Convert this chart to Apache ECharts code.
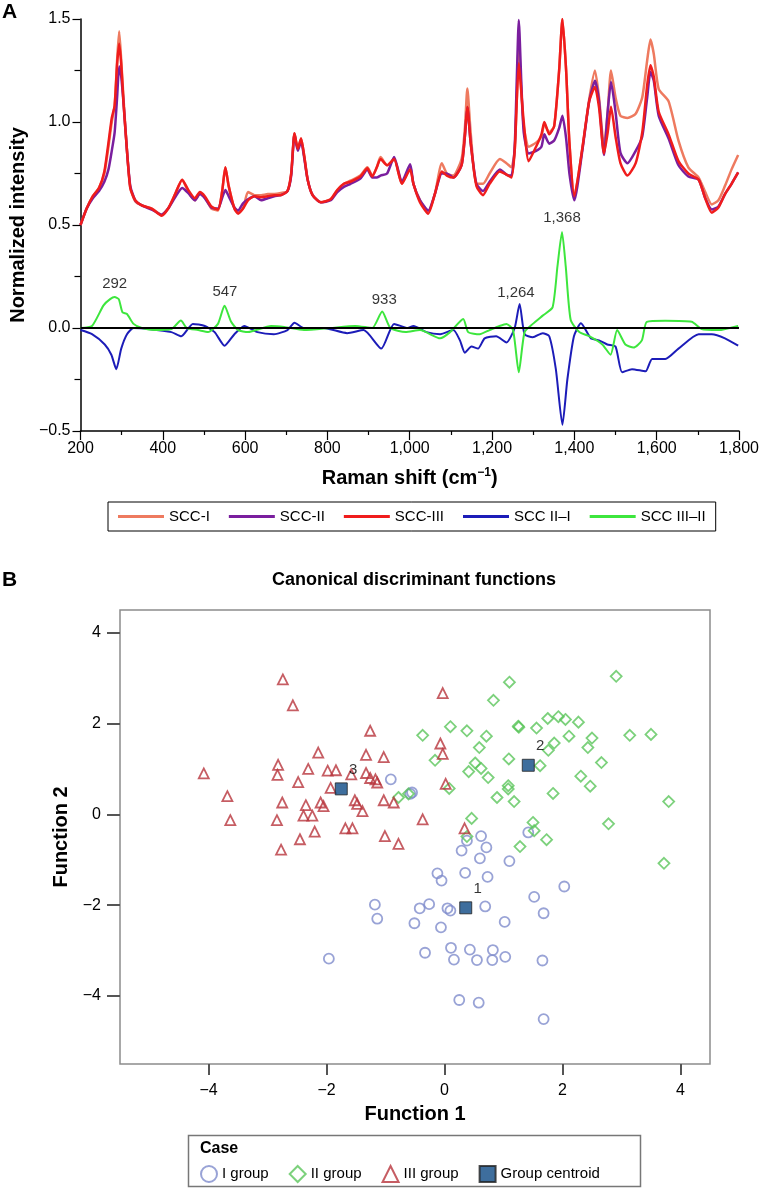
<!DOCTYPE html>
<html><head><meta charset="utf-8">
<script src="https://cdn.jsdelivr.net/npm/echarts@6/dist/echarts.min.js"></script>
<style>html,body{margin:0;padding:0;background:#fff}#chart{width:762px;height:1188px}</style>
</head><body><div id="chart"></div>
<script>
// ---------- Panel A data ----------
const shiftTop = [200,215,230,245,258,268,276,283,289,294,
299,305,313,321,333,349,373,397,413,430,
447,462,478,490,502,518,534,544,552,560,
574,583,595,607,623,639,655,671,687,703,
712,720,728,736,744,752,764,784,808,824,
840,856,880,897,909,920,929,945,962,981,
1001,1009,1025,1045,1061,1078,1090,1106,1126,1134,
1140,1148,1162,1178,1194,1219,1235,1247,1255,1260,
1265,1271,1277,1289,1307,1320,1327,1339,1351,1363,
1371,1380,1388,1400,1420,1436,1450,1460,1472,1481,
1489,1500,1512,1529,1549,1565,1577,1585,1593,1605,
1629,1653,1677,1702,1718,1734,1750,1766,1782,1798];
const sccI = [0.50,0.58,0.64,0.68,0.75,0.88,1.00,1.08,1.30,1.44,
1.30,1.10,0.86,0.68,0.615,0.595,0.58,0.55,0.58,0.65,
0.72,0.66,0.62,0.655,0.635,0.58,0.57,0.66,0.78,0.69,
0.58,0.56,0.58,0.66,0.645,0.645,0.65,0.65,0.655,0.665,
0.75,0.945,0.87,0.92,0.83,0.72,0.645,0.61,0.625,0.67,
0.70,0.715,0.74,0.78,0.74,0.78,0.83,0.79,0.82,0.70,
0.78,0.70,0.62,0.565,0.65,0.80,0.75,0.74,0.82,0.97,
1.163,0.95,0.70,0.70,0.75,0.82,0.80,0.78,0.86,1.10,
1.38,1.15,0.98,0.88,0.90,0.93,0.99,0.95,0.98,1.25,
1.50,1.25,0.90,0.64,0.88,1.11,1.25,1.12,0.88,1.05,
1.25,1.12,1.03,1.02,1.04,1.12,1.30,1.40,1.33,1.16,
1.10,0.91,0.78,0.73,0.66,0.60,0.62,0.69,0.77,0.84];
const sccII = [0.50,0.58,0.63,0.665,0.71,0.77,0.86,0.95,1.12,1.27,
1.22,1.08,0.86,0.69,0.62,0.595,0.575,0.55,0.58,0.635,
0.68,0.655,0.62,0.65,0.63,0.585,0.58,0.63,0.67,0.64,
0.585,0.57,0.605,0.625,0.64,0.62,0.63,0.64,0.645,0.665,
0.74,0.94,0.86,0.905,0.82,0.72,0.645,0.61,0.62,0.66,
0.685,0.70,0.725,0.77,0.73,0.73,0.74,0.75,0.83,0.71,
0.795,0.70,0.62,0.57,0.65,0.75,0.75,0.73,0.79,0.93,
1.07,0.90,0.70,0.665,0.71,0.77,0.745,0.74,0.88,1.20,
1.495,1.20,0.95,0.847,0.86,0.88,0.94,0.895,0.91,0.97,
1.03,0.92,0.75,0.62,0.87,1.10,1.20,1.10,0.84,1.05,
1.195,1.05,0.85,0.80,0.86,0.93,1.12,1.244,1.20,1.03,
0.92,0.79,0.735,0.72,0.63,0.575,0.59,0.65,0.70,0.755];
const sccIII = [0.50,0.58,0.64,0.68,0.76,0.90,1.02,1.08,1.28,1.38,
1.28,1.08,0.86,0.68,0.62,0.595,0.58,0.545,0.58,0.65,
0.72,0.67,0.63,0.66,0.64,0.59,0.575,0.66,0.78,0.69,
0.58,0.555,0.58,0.62,0.64,0.635,0.64,0.645,0.645,0.665,
0.75,0.945,0.87,0.92,0.83,0.72,0.645,0.61,0.625,0.67,
0.70,0.71,0.735,0.775,0.735,0.78,0.82,0.79,0.82,0.70,
0.77,0.70,0.61,0.555,0.65,0.76,0.74,0.73,0.79,0.93,
1.074,0.90,0.69,0.645,0.70,0.76,0.745,0.73,0.86,1.10,
1.285,1.15,1.00,0.81,0.88,0.94,1.00,0.94,0.98,1.25,
1.50,1.25,0.90,0.64,0.88,1.10,1.17,1.07,0.847,0.95,
1.074,0.93,0.80,0.74,0.80,0.95,1.18,1.276,1.22,1.05,
0.94,0.81,0.75,0.72,0.63,0.56,0.585,0.65,0.70,0.755];

const shiftIII_II = [200,228,256,272,283,293,302,313,329,349,
381,421,444,458,486,510,534,550,566,583,
607,663,695,743,807,868,909,933,953,990,
1025,1074,1098,1130,1142,1170,1194,1218,1235,1251,
1265,1279,1299,1323,1347,1359,1370,1379,1391,1412,
1436,1468,1488,1504,1524,1544,1564,1576,1621,1685,
1709,1750,1798];
const diffIII_II = [0,0.01,0.11,0.14,0.15,0.14,0.076,0.068,0.02,0.0,
-0.01,-0.005,0.036,0.0,-0.01,-0.02,0.02,0.108,0.03,-0.01,
-0.02,0.01,0.005,-0.01,0.0,0.01,0.0,0.08,0.0,-0.02,
-0.01,-0.05,-0.02,0.044,-0.02,-0.03,-0.01,0.01,0.02,-0.01,
-0.215,-0.02,0.02,0.06,0.10,0.30,0.466,0.30,0.04,-0.02,
-0.04,-0.08,-0.13,-0.01,-0.08,-0.095,-0.06,0.03,0.035,0.03,
-0.005,-0.01,0.01];
const shiftII_I = [200,228,259,275,287,299,313,329,366,421,
445,473,502,526,550,574,598,630,670,703,
720,743,791,848,888,931,962,995,1009,1041,
1074,1106,1122,1134,1150,1166,1182,1210,1235,1255,
1267,1279,1299,1323,1339,1355,1371,1383,1399,1416,
1440,1460,1480,1500,1516,1540,1573,1589,1621,1653,
1702,1734,1766,1798];
const diffII_I = [-0.01,-0.03,-0.08,-0.13,-0.20,-0.10,-0.03,0.0,-0.005,-0.02,
-0.04,0.02,0.01,-0.02,-0.086,-0.03,0.01,-0.02,-0.03,-0.01,
0.025,0.0,0.0,-0.025,-0.01,-0.10,0.02,0.0,0.01,-0.02,
-0.03,-0.01,-0.06,-0.12,-0.09,-0.10,-0.05,-0.04,-0.07,0.0,
0.117,-0.03,-0.045,-0.025,-0.04,-0.20,-0.47,-0.25,-0.04,0.023,
-0.05,-0.06,-0.08,-0.09,-0.215,-0.20,-0.21,-0.15,-0.15,-0.10,
-0.03,-0.03,-0.05,-0.086];

const peakText = ['292','547','933','1,264','1,368'];
const peakX = [283,551,938,1258,1370];
const peakY = [0.216,0.177,0.138,0.173,0.535];

// ---------- Panel B data ----------
const groupI = [[0.62,-0.48],[0.38,-0.58],[0.29,-0.80],[0.71,-0.73],[0.60,-0.97],[1.10,-1.03],[1.42,-0.40],[-0.12,-1.30],[-0.05,-1.46],[0.35,-1.29],[0.73,-1.38],[2.03,-1.59],[1.52,-1.82],[-1.18,-1.99],[-0.42,-2.07],[-0.26,-1.98],[0.05,-2.07],[0.10,-2.12],[0.69,-2.03],[1.68,-2.18],[-1.14,-2.30],[-0.51,-2.40],[-0.06,-2.49],[1.02,-2.37],[-1.96,-3.18],[-0.33,-3.05],[0.11,-2.94],[0.16,-3.20],[0.43,-2.98],[0.55,-3.21],[0.82,-2.99],[0.81,-3.21],[1.03,-3.14],[1.66,-3.22],[0.25,-4.09],[0.58,-4.15],[1.68,-4.51],[-0.91,0.77],[-0.55,0.48],[-0.58,0.45]];
const groupII = [[1.10,2.91],[2.91,3.04],[0.83,2.51],[-0.37,1.74],[0.10,1.93],[0.38,1.84],[0.71,1.72],[0.59,1.47],[1.25,1.94],[1.26,1.92],[1.56,1.90],[1.75,2.11],[1.93,2.15],[2.05,2.09],[2.27,2.03],[2.11,1.72],[2.50,1.68],[2.43,1.47],[3.14,1.74],[3.50,1.76],[1.86,1.57],[1.76,1.41],[-0.16,1.19],[0.52,1.13],[0.62,1.01],[0.41,0.94],[0.74,0.81],[1.09,1.22],[1.62,1.07],[2.66,1.14],[2.31,0.84],[2.47,0.62],[0.08,0.57],[1.08,0.63],[1.08,0.56],[0.89,0.37],[1.18,0.28],[1.84,0.46],[3.80,0.28],[0.46,-0.09],[1.50,-0.18],[1.52,-0.36],[2.78,-0.21],[1.73,-0.56],[1.28,-0.71],[3.72,-1.08],[0.38,-0.49],[-0.78,0.37],[-0.61,0.45]];
const groupIII = [[-2.74,2.97],[-2.57,2.40],[-1.26,1.84],[-2.14,1.36],[-1.33,1.31],[-1.03,1.26],[-2.82,1.09],[-4.08,0.90],[-2.83,0.87],[-2.31,1.00],[-1.98,0.96],[-1.84,0.97],[-1.58,0.88],[-1.33,0.91],[-1.26,0.80],[-1.17,0.77],[-1.14,0.70],[-2.48,0.71],[-1.93,0.58],[-3.68,0.40],[-2.75,0.26],[-2.35,0.20],[-2.10,0.26],[-2.05,0.18],[-1.52,0.31],[-1.48,0.23],[-1.39,0.07],[-1.03,0.31],[-0.86,0.26],[-3.63,-0.13],[-2.84,-0.13],[-2.39,-0.03],[-2.24,-0.03],[-0.37,-0.11],[-2.20,-0.38],[-1.68,-0.31],[-1.56,-0.31],[-2.45,-0.55],[-1.01,-0.48],[-0.78,-0.65],[-2.77,-0.78],[-0.03,2.67],[-0.07,1.56],[-0.03,1.33],[0.02,0.67],[0.34,-0.31]];
const centroids = [[0.36,-2.06],[1.42,1.08],[-1.75,0.56]];
const centroidLabels = ['1','2','3'];
const scatterTicks = [-4,-2,0,2,4];

// ---------- build ----------
const FONT = 'Liberation Sans, Arial, sans-serif';
const zip = (xs, ys) => xs.map((x, i) => [x, ys[i]]);
const minus = v => (v < 0 ? '\u2212' + Math.abs(v) : String(v));

function specLine(name, xs, ys, color, width) {
  return {
    name, type: 'line', xAxisIndex: 0, yAxisIndex: 0,
    data: zip(xs, ys), symbol: 'none', smooth: 0.2,
    lineStyle: { color, width }, itemStyle: { color }
  };
}
function caseScatter(name, data, symbol, color, size) {
  return {
    name, type: 'scatter', xAxisIndex: 1, yAxisIndex: 1, data,
    symbol, symbolSize: size,
    itemStyle: { color: 'rgba(255,255,255,0)', borderColor: color, borderWidth: 1.8 }
  };
}

const chart = echarts.init(document.getElementById('chart'), null, { renderer: 'canvas' });
const option = {
  animation: false,
  backgroundColor: '#fff',
  textStyle: { fontFamily: FONT },
  grid: [
    { left: 78, top: 19, width: 662, height: 412, show: false },
    { left: 120, top: 610, width: 590, height: 454, show: true, borderColor: '#8c8c8c', borderWidth: 1.5, backgroundColor: '#fff' }
  ],
  xAxis: [
    {
      gridIndex: 0, type: 'value', min: 200, max: 1800, interval: 200,
      name: 'Raman shift (cm{sup|\u22121})', nameLocation: 'middle', nameGap: 36,
      nameTextStyle: { fontSize: 20, fontWeight: 'bold', color: '#000', fontFamily: FONT,
        rich: { sup: { fontSize: 12, fontWeight: 'bold', verticalAlign: 'top', lineHeight: 22, fontFamily: FONT } } },
      axisLine: { show: true, onZero: false, lineStyle: { color: '#000', width: 1.5 } },
      axisTick: { show: true, length: 9, lineStyle: { color: '#000', width: 1.2 } },
      minorTick: { show: true, splitNumber: 2, length: 4, lineStyle: { color: '#000', width: 1.2 } },
      axisLabel: { fontSize: 16, color: '#000', margin: 10, fontFamily: FONT,
        formatter: v => v >= 1000 ? Math.floor(v / 1000) + ',' + String(v % 1000).padStart(3, '0') : String(v) },
      splitLine: { show: false }
    },
    {
      gridIndex: 1, type: 'value', min: -5.5, max: 4.5,
      name: 'Function 1', nameLocation: 'middle', nameGap: 40,
      nameTextStyle: { fontSize: 20, fontWeight: 'bold', color: '#000', fontFamily: FONT },
      axisLine: { show: false, onZero: false },
      axisTick: { show: true, length: 11, customValues: scatterTicks, lineStyle: { color: '#555', width: 2 } },
      axisLabel: { fontSize: 16, color: '#000', margin: 19, customValues: scatterTicks, formatter: minus, fontFamily: FONT },
      splitLine: { show: false }
    }
  ],
  yAxis: [
    {
      gridIndex: 0, type: 'value', min: -0.5, max: 1.5, interval: 0.5,
      name: 'Normalized intensity', nameLocation: 'middle', nameGap: 52,
      nameTextStyle: { fontSize: 20, fontWeight: 'bold', color: '#000', fontFamily: FONT },
      axisLine: { show: true, onZero: false, lineStyle: { color: '#000', width: 1.5 } },
      axisTick: { show: true, length: 8, lineStyle: { color: '#000', width: 1.2 } },
      minorTick: { show: true, splitNumber: 2, length: 6, lineStyle: { color: '#000', width: 1.2 } },
      axisLabel: { fontSize: 16, color: '#000', margin: 10, fontFamily: FONT,
        formatter: v => (v < 0 ? '\u2212' : '') + Math.abs(v).toFixed(1) },
      splitLine: { show: false }
    },
    {
      gridIndex: 1, type: 'value', min: -5.5, max: 4.5,
      name: 'Function 2', nameLocation: 'middle', nameGap: 46,
      nameTextStyle: { fontSize: 20, fontWeight: 'bold', color: '#000', fontFamily: FONT },
      axisLine: { show: false, onZero: false },
      axisTick: { show: true, length: 13, customValues: scatterTicks, lineStyle: { color: '#555', width: 2 } },
      axisLabel: { fontSize: 16, color: '#000', margin: 19, customValues: scatterTicks, formatter: minus, fontFamily: FONT },
      splitLine: { show: false }
    }
  ],
  legend: [
    {
      left: 108, top: 502, orient: 'horizontal',
      padding: [7, 10, 7, 10], borderColor: '#000', borderWidth: 1,
      itemGap: 19, itemWidth: 46, itemHeight: 3, icon: 'rect',
      textStyle: { fontSize: 15, color: '#000', fontFamily: FONT },
      data: ['SCC-I', 'SCC-II', 'SCC-III', 'SCC II\u2013I', 'SCC III\u2013II']
    },
    {
      left: 200, top: 1165, orient: 'horizontal', padding: 0,
      itemGap: 20, itemWidth: 16, itemHeight: 16,
      textStyle: { fontSize: 15, color: '#000', fontFamily: FONT },
      data: ['I group', 'II group', 'III group', 'Group centroid']
    }
  ],
  graphic: [
    { type: 'text', left: 2, top: 2, style: { text: 'A', font: 'bold 21px ' + FONT, fill: '#000' } },
    { type: 'text', left: 2, top: 570, style: { text: 'B', font: 'bold 21px ' + FONT, fill: '#000' } },
    { type: 'text', x: 414, y: 580, style: { text: 'Canonical discriminant functions', font: 'bold 18px ' + FONT, fill: '#000', textAlign: 'center', textVerticalAlign: 'middle' } },
    { type: 'rect', shape: { x: 188.5, y: 1135.5, width: 452, height: 51 }, style: { fill: 'none', stroke: '#777', lineWidth: 1.5 } },
    { type: 'text', x: 200, y: 1149, style: { text: 'Case', font: 'bold 16px ' + FONT, fill: '#000', textVerticalAlign: 'middle' } }
  ],
  series: [
    specLine('SCC-I', shiftTop, sccI, '#EE7A5F', 2.5),
    specLine('SCC-II', shiftTop, sccII, '#7A1E9E', 2.5),
    specLine('SCC-III', shiftTop, sccIII, '#F01C1C', 2.5),
    specLine('SCC II\u2013I', shiftII_I, diffII_I, '#1C1CB8', 2),
    Object.assign(specLine('SCC III\u2013II', shiftIII_II, diffIII_II, '#3DE63D', 2), {
      markLine: { symbol: 'none', silent: true, label: { show: false },
        lineStyle: { color: '#000', width: 2, type: 'solid' }, data: [{ yAxis: 0 }] }
    }),
    {
      name: 'peaks', type: 'scatter', xAxisIndex: 0, yAxisIndex: 0, symbolSize: 1,
      itemStyle: { color: 'rgba(0,0,0,0)' },
      data: peakX.map((x, i) => [x, peakY[i], peakText[i]]),
      label: { show: true, position: 'inside', formatter: p => p.value[2], fontSize: 15, color: '#000', fontFamily: FONT }
    },
    caseScatter('I group', groupI, 'circle', '#7F8CCC', 10),
    caseScatter('II group', groupII, 'diamond', '#5BC65B', 11),
    caseScatter('III group', groupIII, 'triangle', '#B8343C', 10),
    {
      name: 'Group centroid', type: 'scatter', xAxisIndex: 1, yAxisIndex: 1,
      data: centroids.map((c, i) => [c[0], c[1], centroidLabels[i]]),
      symbol: 'rect', symbolSize: 12, z: 5,
      itemStyle: { color: '#0E4A85', borderColor: '#222', borderWidth: 1 },
      label: { show: true, position: 'top', offset: [12, 0], formatter: p => p.value[2], fontSize: 15, color: '#000', fontFamily: FONT }
    }
  ]
};
chart.setOption(option);
</script></body></html>
